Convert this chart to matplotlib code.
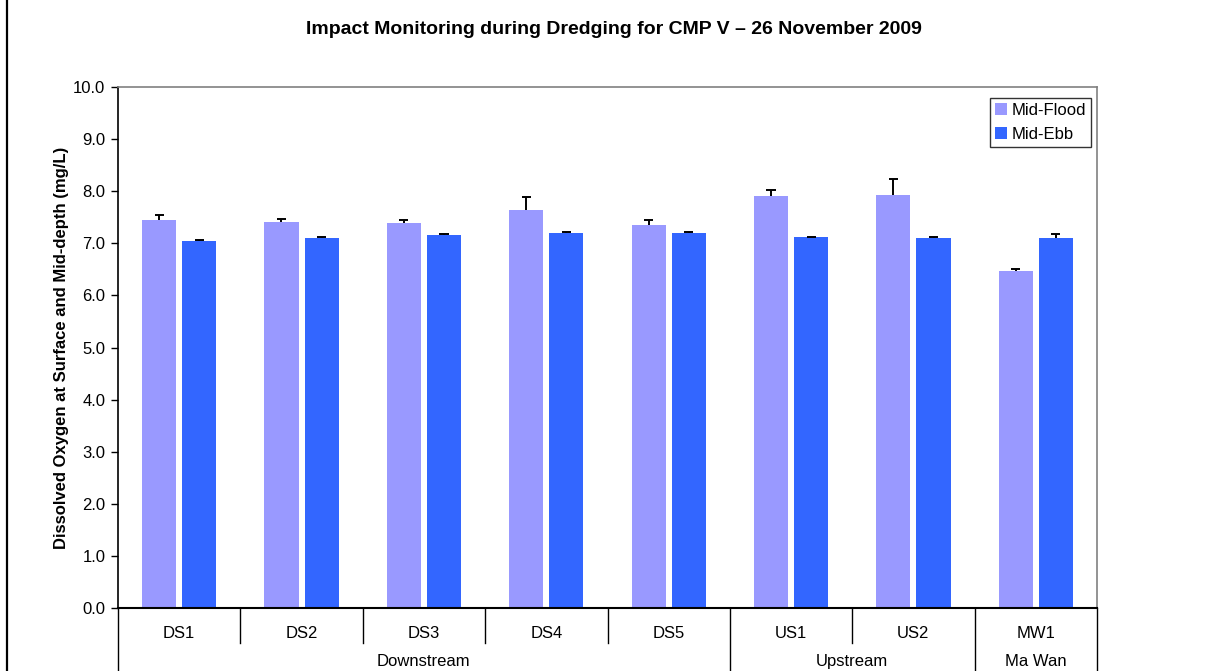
import numpy as np
import matplotlib
matplotlib.use("Agg")
import matplotlib.pyplot as plt
from matplotlib.lines import Line2D
from matplotlib.patches import Patch
import matplotlib.transforms as mtransforms

plt.rcParams['font.family'] = ['Liberation Sans', 'DejaVu Sans']

# data
sites = ["DS1", "DS2", "DS3", "DS4", "DS5", "US1", "US2", "MW1"]
groups = ["Downstream", "Upstream", "Ma Wan"]
group_sizes = [5, 2, 1]
flood = [7.45, 7.41, 7.39, 7.64, 7.35, 7.91, 7.93, 6.47]
flood_err = [0.09, 0.05, 0.05, 0.24, 0.09, 0.11, 0.30, 0.03]
ebb = [7.04, 7.10, 7.16, 7.20, 7.20, 7.12, 7.10, 7.10]
ebb_err = [0.02, 0.02, 0.01, 0.02, 0.02, 0.01, 0.02, 0.07]

W, H = 1228, 671
fig = plt.figure(figsize=(W / 100, H / 100), dpi=100)
# plot area in pixels: x 118..1097, y 87..608
ax = fig.add_axes([118 / W, (H - 608) / H, (1097 - 118) / W, (608 - 87) / H])

x = np.arange(len(sites))
bw = 0.278
off = bw / 2 + 0.025
cap = 0.037


def plus_errbars(xs, ys, errs):
    # Excel style "plus" error bars: only the upper stem and cap
    tops = np.asarray(ys) + np.asarray(errs)
    ax.vlines(xs, ys, tops, color="black", lw=1.4, zorder=3)
    ax.hlines(tops, xs - cap, xs + cap, color="black", lw=1.4, zorder=3)


ax.bar(x - off, flood, bw, color="#9999FF", label="Mid-Flood", zorder=2)
ax.bar(x + off, ebb, bw, color="#3366FF", label="Mid-Ebb", zorder=2)
plus_errbars(x - off, flood, flood_err)
plus_errbars(x + off, ebb, ebb_err)

ax.set_xlim(-0.5, len(sites) - 0.5)
ax.set_ylim(0, 10)
ax.set_yticks(np.arange(0, 10.5, 1.0))
ax.set_yticklabels([f"{v:.1f}" for v in np.arange(0, 10.5, 1.0)], fontsize=12)
ax.tick_params(axis="y", direction="out", length=5, width=1, pad=4)
ax.set_xticks([])
for s in ["top", "right"]:
    ax.spines[s].set_color("#808080")
    ax.spines[s].set_linewidth(1.2)
ax.spines["left"].set_linewidth(1.2)
ax.spines["bottom"].set_linewidth(1.5)

ax.set_ylabel("Dissolved Oxygen at Surface and Mid-depth (mg/L)", fontsize=12,
              fontweight="bold", labelpad=3)
fig.text(0.5, 1 - 30 / H, "Impact Monitoring during Dredging for CMP V \u2013 26 November 2009",
         ha="center", va="center", fontsize=14, fontweight="bold")

# category axis boxes
trans = mtransforms.blended_transform_factory(ax.transData, ax.transAxes)
row1 = -(643 - 608) / 521
row2 = -(671 - 608) / 521
bounds = np.cumsum([0] + group_sizes) - 0.5
for i in range(len(sites) + 1):
    xb = i - 0.5
    yend = row2 if xb in bounds else row1
    ax.add_artist(Line2D([xb, xb], [0, yend], transform=trans, color="black",
                         lw=1, clip_on=False))
for i, s in enumerate(sites):
    ax.text(i, -(638 - 608) / 521, s, transform=trans, ha="center",
            va="baseline", fontsize=12)
for g, a, b in zip(groups, bounds[:-1], bounds[1:]):
    ax.text((a + b) / 2, -(666 - 608) / 521, g, transform=trans, ha="center",
            va="baseline", fontsize=12)

handles = [Patch(facecolor="#9999FF", label="Mid-Flood"),
           Patch(facecolor="#3366FF", label="Mid-Ebb")]
leg = ax.legend(handles=handles, loc="upper right",
                bbox_to_anchor=((1091 - 118) / 979, (608 - 98) / 521),
                fontsize=12, frameon=True, fancybox=False, handlelength=0.7,
                handleheight=0.7, handletextpad=0.3, borderpad=0.3,
                labelspacing=0.55, borderaxespad=0)
leg.get_frame().set_edgecolor("black")
leg.get_frame().set_linewidth(1)

# left border of the chart area
fig.add_artist(Line2D([7 / W, 7 / W], [0, 1], transform=fig.transFigure,
                      color="black", lw=1.6))

fig.savefig("out.png", dpi=100)
